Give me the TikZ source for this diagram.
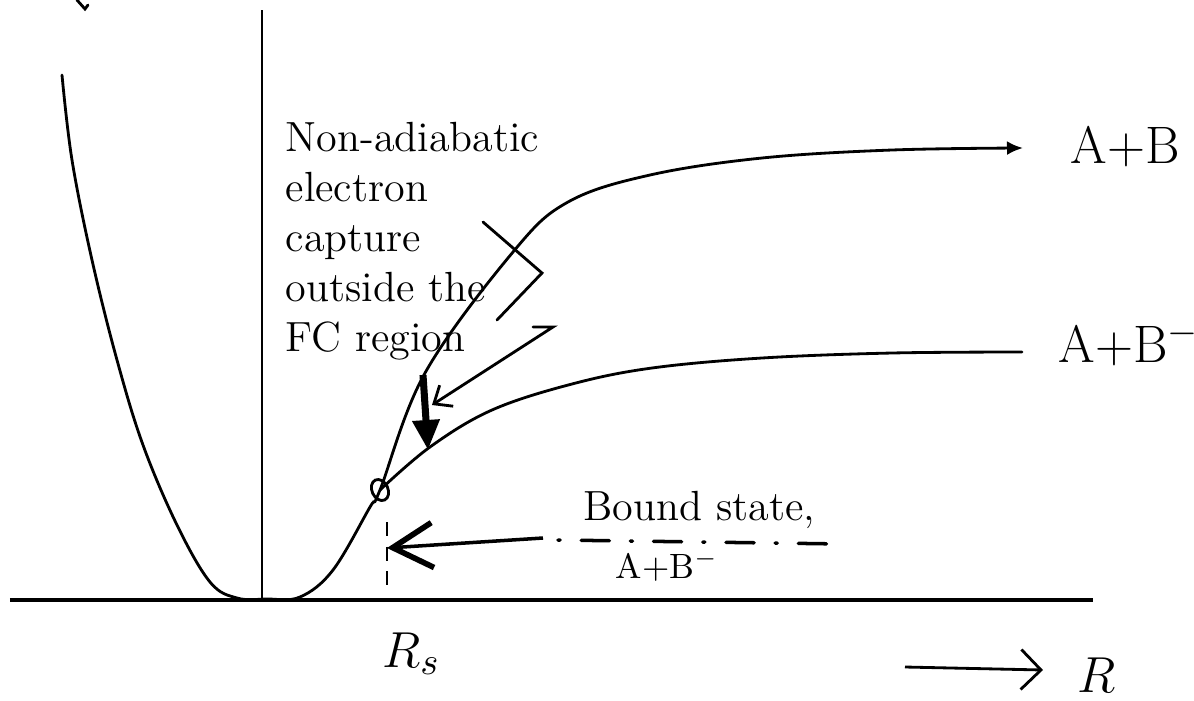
\documentclass[tikz,border=0pt]{standalone}
\usepackage{amsmath}
\usetikzlibrary{arrows.meta}

\tikzset{
  curve/.style={thick, line cap=round},
  note/.style={inner sep=0pt, align=left, font=\fontsize{12}{14.2}\selectfont},
  state/.style={inner sep=0pt, font=\fontsize{15}{18}\selectfont},
  bondline/.style={line width=1pt, line cap=round, dash pattern=on 0.6pt off 6pt on 8pt off 6pt},
}

\begin{document}
\begin{tikzpicture}[scale=1]
    \useasboundingbox (-2.62,-1.00) rectangle (9.32,6.00);

    % Eixos
    \draw[line width=1.1pt] (-2.52,0) -- (8.31,0);
    \draw[thick] (0,5.90) -- (0,0);
    \draw[curve] (-1.85,6.00) -- (-1.77,5.91) -- (-1.74,5.95);

    % Pou i corba A+B
    \coordinate (cross) at (1.18,1.10);
    \draw[curve, -{Latex[length=1.6mm,width=1.4mm]}] plot[smooth, tension=0.6] coordinates {
        (-2.00,5.25) (-1.90,4.40) (-1.70,3.40) (-1.45,2.40) (-1.19,1.55) (-0.85,0.75)
        (-0.52,0.18) (-0.25,0.02) (0.05,0.01) (0.38,0.03) (0.71,0.30) (1.08,0.93) (1.18,1.10)
        (1.63,2.27) (2.51,3.48) (3.06,3.98) (3.88,4.25) (5.00,4.42) (6.30,4.50) (7.61,4.52)};

    % Corba A+B^-
    \draw[curve] plot[smooth, tension=0.6] coordinates {
        (1.18,1.10) (1.68,1.53) (2.30,1.90) (3.10,2.16) (3.90,2.32) (5.00,2.42) (6.30,2.47) (7.60,2.48)};
    \draw[thick] (cross) circle [x radius=0.08, y radius=0.11, rotate=25];

    % Fletxes de la captura
    \draw[line width=2pt, -{Triangle[length=3mm,width=2.6mm]}] (1.61,2.25) -- (1.66,1.50);
    \draw[curve] (2.21,3.78) -- (2.80,3.27) -- (2.35,2.80);
    \draw[curve, -{Straight Barb[length=1.5mm,width=2.5mm]}] (2.71,2.73) -- (2.91,2.73) -- (1.70,1.95);

    % Estat lligat
    \draw[line width=1pt, -{Straight Barb[length=4mm,width=4.5mm,line width=1.6pt]}] (2.81,0.62) -- (1.25,0.52);
    \draw[bondline] (2.96,0.60) -- (5.81,0.56);
    \draw[thick, dash pattern=on 4pt off 3pt] (1.25,0.78) -- (1.25,0.10);

    % Llegendes
    \node[note, anchor=north west] (capture) at (0.23,4.78)
        {Non-adiabatic\\electron\\capture\\outside the\\FC region};
    \node[state, anchor=base west] (neutral) at (8.08,4.37) {A+B};
    \node[state, anchor=base west] (ionic) at (7.96,2.38) {A+B$^-$};
    \node[inner sep=0pt, anchor=base west, font=\fontsize{12}{14}\selectfont] (bound) at (3.21,0.80) {Bound state,};
    \node[inner sep=0pt, anchor=base west, font=\fontsize{10}{12}\selectfont] (boundsp) at (3.53,0.22) {A+B$^-$};
    \node[state, anchor=base west] (rs) at (1.20,-0.67) {$R_s$};
    \draw[thick, -{Straight Barb[length=2mm,width=4mm]}] (6.43,-0.67) -- (7.81,-0.70);
    \node[state, anchor=base west] (rlab) at (8.15,-0.92) {$R$};
\end{tikzpicture}
\end{document}
